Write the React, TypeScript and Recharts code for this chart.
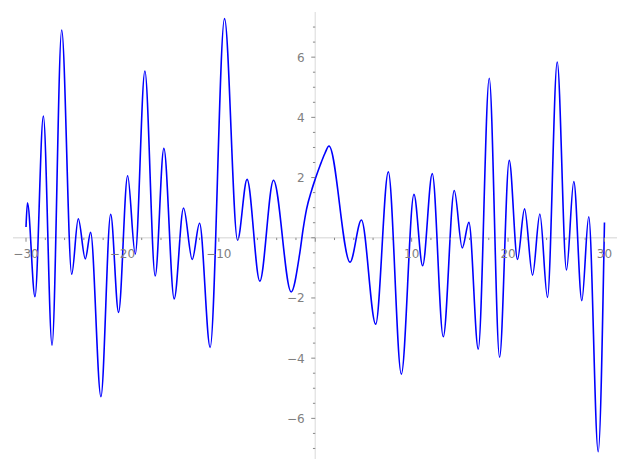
import { LineChart, Line, XAxis, YAxis, ReferenceLine, ReferenceDot } from "recharts";

// curve samples (peaks, troughs and a few shoulder points)
const xs = [
  -30.0, -29.85, -29.07, -28.2, -27.3, -26.3, -25.26, -24.58, -23.85, -23.3,
  -22.23, -21.22, -20.4, -19.46, -18.67, -17.67, -16.6, -15.7, -14.63, -13.66,
  -12.76, -12.0, -10.9, -9.41, -8.06, -7.07, -5.75, -4.33, -2.5, -1.6,
  -1.25, -0.9, -0.4, 0, 0.5, 1.0, 1.43, 3.61, 4.79, 6.27,
  7.58, 8.93, 10.24, 11.14, 12.14, 13.28, 14.42, 15.25, 15.94, 16.91,
  18.05, 19.12, 20.12, 20.98, 21.71, 22.54, 23.3, 24.09, 25.1, 26.06,
  26.82, 27.65, 28.37, 29.35, 30.0,
];
const ys = [
  0.36, 1.16, -1.96, 4.04, -3.57, 6.9, -1.21, 0.63, -0.7, 0.18,
  -5.28, 0.78, -2.48, 2.06, -0.54, 5.54, -1.27, 2.97, -2.03, 0.99,
  -0.72, 0.48, -3.64, 7.28, -0.08, 1.94, -1.44, 1.91, -1.8, -0.5,
  0.3, 0.95, 1.55, 1.95, 2.4, 2.8, 3.05, -0.81, 0.59, -2.87,
  2.19, -4.53, 1.44, -0.93, 2.13, -3.29, 1.57, -0.34, 0.51, -3.7,
  5.3, -3.97, 2.57, -0.72, 0.96, -1.24, 0.79, -1.98, 5.84, -1.07,
  1.87, -2.09, 0.7, -7.11, 0.51,
];

const xMajor = [-30, -20, -10, 0, 10, 20, 30];
const xMinor = [-28, -26, -24, -22, -18, -16, -14, -12, -8, -6, -4, -2, 2, 4, 6, 8, 12, 14, 16, 18, 22, 24, 26, 28];
const yMajor = [-6, -4, -2, 0, 2, 4, 6];
const yMinor = [-7, -6.5, -5.5, -5, -4.5, -3.5, -3, -2.5, -1.5, -1, -0.5, 0.5, 1, 1.5, 2.5, 3, 3.5, 4.5, 5, 5.5, 6.5, 7];

const data = xs.map((x, i) => ({ x, y: ys[i] }));

const FONT = "DejaVu Sans, sans-serif";
const TICK = "#888888";
const LABEL = "#808080";
const fmt = (v: number) => (v < 0 ? "\u2212" + Math.abs(v) : String(v));

function XTick(len: number, label: boolean) {
  return (p: any) => (
    <g>
      <line x1={p.cx} x2={p.cx} y1={p.cy} y2={p.cy + len} stroke={TICK} strokeWidth={1} />
      {label && (
        <text x={p.cx} y={p.cy + 20} textAnchor="middle" fontFamily={FONT} fontSize={12} fill={LABEL}>
          {fmt(p.value)}
        </text>
      )}
    </g>
  );
}

function YTick(len: number, label: boolean) {
  return (p: any) => (
    <g>
      <line x1={p.cx - len} x2={p.cx} y1={p.cy} y2={p.cy} stroke={TICK} strokeWidth={1} />
      {label && (
        <text x={p.cx - 10.5} y={p.cy + 4.4} textAnchor="end" fontFamily={FONT} fontSize={12} fill={LABEL}>
          {fmt(p.value)}
        </text>
      )}
    </g>
  );
}

export default function App() {
  return (
    <div style={{ position: "absolute", left: 0, top: 0, background: "#fff" }}>
      <LineChart width={627} height={470} data={data} margin={{ top: 12, right: 10, bottom: 11, left: 13 }}>
        <XAxis type="number" dataKey="x" domain={[-31.35, 31.3]} hide allowDataOverflow />
        <YAxis type="number" domain={[-7.35, 7.5]} hide allowDataOverflow />
        <ReferenceLine y={0} stroke="#e2e2e2" strokeWidth={1.3} />
        <ReferenceLine x={0} stroke="#e2e2e2" strokeWidth={1.3} />
        {xMinor.map((v) => (
          <ReferenceDot key={"xm" + v} x={v} y={0} shape={(p: any) => XTick(2.3, false)({ ...p, value: v })} />
        ))}
        {xMajor.map((v) => (
          <ReferenceDot key={"xM" + v} x={v} y={0} shape={(p: any) => XTick(4, v !== 0)({ ...p, value: v })} />
        ))}
        {yMinor.map((v) => (
          <ReferenceDot key={"ym" + v} x={0} y={v} shape={(p: any) => YTick(2.3, false)({ ...p, value: v })} />
        ))}
        {yMajor.map((v) => (
          <ReferenceDot key={"yM" + v} x={0} y={v} shape={(p: any) => YTick(4, v !== 0)({ ...p, value: v })} />
        ))}
        <Line
          type="monotone"
          dataKey="y"
          stroke="#0000ff"
          strokeWidth={1.6}
          dot={false}
          isAnimationActive={false}
        />
      </LineChart>
    </div>
  );
}
